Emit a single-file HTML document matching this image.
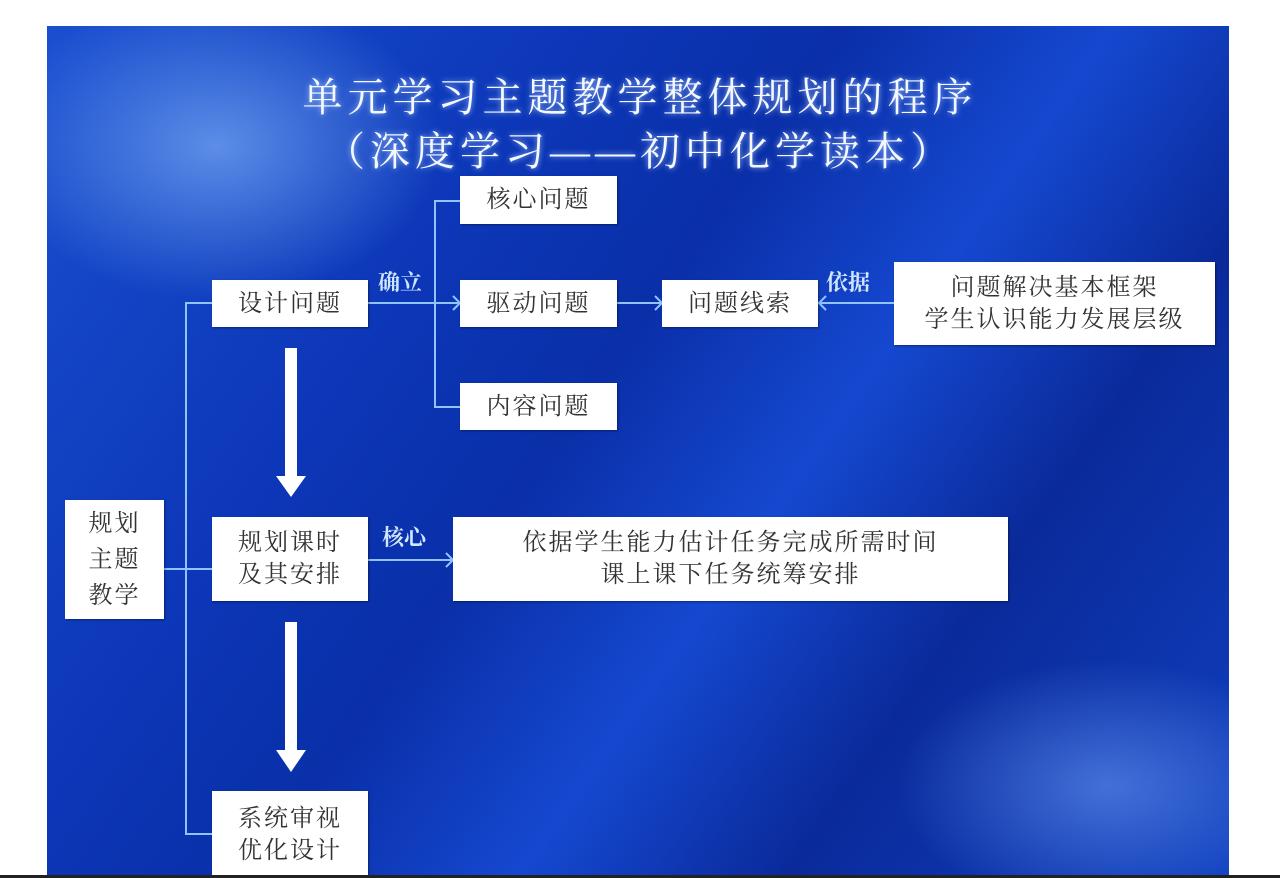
<!DOCTYPE html>
<html><head><meta charset="utf-8"><style>
body{margin:0;width:1280px;height:878px;background:#fff;position:relative;overflow:hidden;font-family:"Liberation Serif","Noto Serif CJK SC",serif}
.slide{position:absolute;left:47px;top:26px;width:1182px;height:852px;overflow:hidden;
background:radial-gradient(ellipse 320px 220px at 170px 120px,rgba(140,190,255,.6),rgba(0,0,0,0) 70%),
radial-gradient(ellipse 300px 180px at 1060px 760px,rgba(120,170,255,.5),rgba(0,0,0,0) 70%),
linear-gradient(125deg,#1a4fd0 0%,#0c37b8 30%,#0a2fa8 45%,#1548d0 60%,#0a2a9a 75%,#1040c0 100%)}
.b{position:absolute;background:#fff;box-shadow:1px 1px 2px rgba(0,0,0,.4);color:#333;font-size:24px;display:flex;align-items:center;justify-content:center;text-align:center;line-height:32px;letter-spacing:2px}
.t{position:absolute;color:#f4f8ff;font-size:40px;text-shadow:0 0 6px rgba(180,210,255,.9);width:1280px;text-align:center;left:0;letter-spacing:5px}
.l{position:absolute;color:#cfe6ff;font-size:22px;font-weight:bold}
.h{position:absolute;background:#8fc4ff;height:2px}
.v{position:absolute;background:#8fc4ff;width:2px}
</style></head><body>
<div class="slide"></div>
<div class="t" style="top:66px">单元学习主题教学整体规划的程序</div>
<div class="t" style="top:120px">（深度学习——初中化学读本）</div>

<div class="v" style="left:185px;top:302px;height:533px"></div>
<div class="h" style="left:164px;top:568px;width:48px"></div>
<div class="h" style="left:185px;top:302px;width:27px"></div>
<div class="h" style="left:185px;top:833px;width:27px"></div>
<div class="v" style="left:434px;top:200px;height:207px"></div>
<div class="h" style="left:368px;top:302px;width:92px"></div>
<div class="h" style="left:434px;top:200px;width:26px"></div>
<div class="h" style="left:434px;top:406px;width:26px"></div>
<div class="h" style="left:617px;top:302px;width:45px"></div>
<div class="h" style="left:818px;top:302px;width:76px"></div>
<div class="h" style="left:368px;top:559px;width:85px"></div>

<svg style="position:absolute;left:0;top:0" width="1280" height="878">
<g fill="#fff">
<rect x="285" y="348" width="12" height="130"/><polygon points="276,476 306,476 291,497"/>
<rect x="285" y="622" width="12" height="130"/><polygon points="276,750 306,750 291,772"/>
</g>
<g stroke="#8fc4ff" stroke-width="2" fill="none">
<polyline points="453,296 460,303 453,310"/><polyline points="655,296 662,303 655,310"/>
<polyline points="826,296 819,303 826,310"/><polyline points="446,553 453,560 446,567"/>
</g></svg>

<div class="l" style="left:378px;top:266px">确立</div>
<div class="l" style="left:826px;top:266px">依据</div>
<div class="l" style="left:382px;top:521px">核心</div>

<div class="b" style="left:460px;top:176px;width:157px;height:48px">核心问题</div>
<div class="b" style="left:212px;top:280px;width:156px;height:47px">设计问题</div>
<div class="b" style="left:460px;top:280px;width:157px;height:47px">驱动问题</div>
<div class="b" style="left:662px;top:280px;width:156px;height:47px">问题线索</div>
<div class="b" style="left:894px;top:262px;width:321px;height:83px">问题解决基本框架<br>学生认识能力发展层级</div>
<div class="b" style="left:460px;top:383px;width:157px;height:47px">内容问题</div>
<div class="b" style="left:65px;top:500px;width:99px;height:119px;line-height:36px">规划<br>主题<br>教学</div>
<div class="b" style="left:212px;top:517px;width:156px;height:84px">规划课时<br>及其安排</div>
<div class="b" style="left:453px;top:517px;width:555px;height:84px">依据学生能力估计任务完成所需时间<br>课上课下任务统筹安排</div>
<div class="b" style="left:212px;top:791px;width:156px;height:87px">系统审视<br>优化设计</div>
<div style="position:absolute;left:0;top:875px;width:1280px;height:3px;background:#222"></div>
</body></html>
